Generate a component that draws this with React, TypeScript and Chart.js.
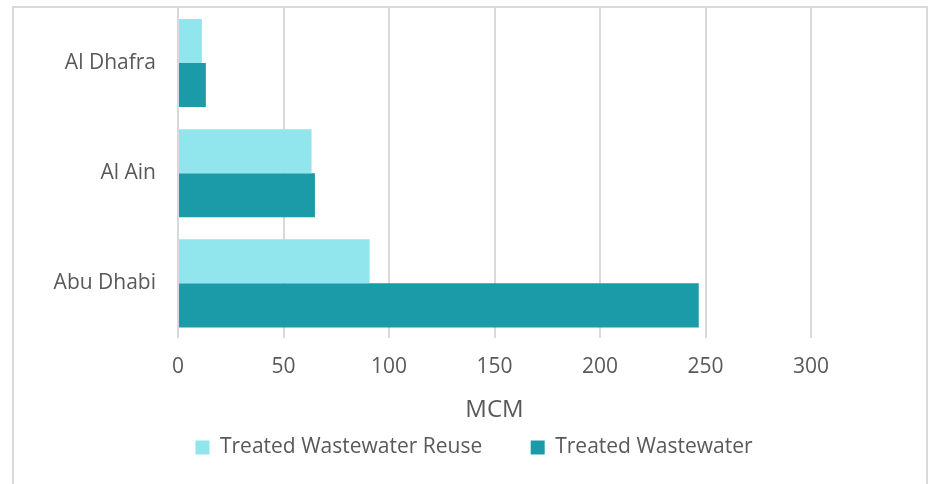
import React, { useEffect, useRef } from "react";
import { Chart, registerables } from "chart.js";

Chart.register(...registerables);

const categories = ["Al Dhafra", "Al Ain", "Abu Dhabi"];
const reuseValues = [11.3, 63.3, 90.8];
const treatedValues = [13.2, 64.9, 246.8];
const seriesNames = ["Treated Wastewater Reuse", "Treated Wastewater"];
const seriesColors = ["#91E5EC", "#1B9AA7"];
const axisTitle = "MCM";

const FONT = "'Open Sans', 'Liberation Sans', sans-serif";
const TEXT = "#595959";

export default function App() {
  const ref = useRef<HTMLCanvasElement | null>(null);

  useEffect(() => {
    if (!ref.current) return;
    const chart = new Chart(ref.current, {
      type: "bar",
      data: {
        labels: categories,
        datasets: [
          {
            label: seriesNames[0],
            data: reuseValues,
            backgroundColor: seriesColors[0],
            categoryPercentage: 0.8,
            barPercentage: 1,
          },
          {
            label: seriesNames[1],
            data: treatedValues,
            backgroundColor: seriesColors[1],
            categoryPercentage: 0.8,
            barPercentage: 1,
          },
        ],
      },
      options: {
        indexAxis: "y",
        animation: false,
        responsive: false,
        maintainAspectRatio: false,
        layout: { autoPadding: false, padding: { left: 0, right: 0, top: 0, bottom: 16 } },
        scales: {
          x: {
            min: 0,
            max: 300,
            ticks: {
              stepSize: 50,
              color: TEXT,
              font: { family: FONT, size: 21 },
              padding: 16.3,
            },
            grid: { color: "#d9d9d9", lineWidth: 2, drawTicks: false },
            border: { display: false },
            title: {
              display: true,
              text: axisTitle,
              color: TEXT,
              font: { family: FONT, size: 24 },
              padding: { top: 0, bottom: 0 },
            },
            afterFit: (s: any) => {
              s.paddingLeft = 0;
              s.paddingRight = 0;
            },
          },
          y: {
            ticks: {
              color: TEXT,
              font: { family: FONT, size: 21 },
              padding: 22,
            },
            grid: { display: false, drawTicks: false },
            border: { display: false },
            afterFit: (s: any) => {
              s.width = 164;
              s.paddingTop = 0;
              s.paddingBottom = 0;
            },
          },
          yRight: {
            type: "category",
            position: "right",
            display: true,
            ticks: { display: false },
            grid: { display: false, drawTicks: false },
            border: { display: false },
            afterFit: (s: any) => {
              s.width = 123;
              s.paddingTop = 0;
              s.paddingBottom = 0;
            },
          },
        },
        plugins: {
          legend: {
            position: "bottom",
            labels: {
              color: TEXT,
              font: { family: FONT, size: 21 },
              boxWidth: 14,
              boxHeight: 14,
              padding: 12,
              generateLabels: (c: any) => {
                const items = Chart.defaults.plugins.legend.labels.generateLabels(c);
                if (items.length === 2) {
                  const spacer = {
                    text: "",
                    fillStyle: "rgba(0,0,0,0)",
                    strokeStyle: "rgba(0,0,0,0)",
                    lineWidth: 0,
                    hidden: false,
                    datasetIndex: -1,
                  };
                  return [items[0], spacer as any, items[1]];
                }
                return items;
              },
            },
            onClick: () => {},
          },
          tooltip: { enabled: false },
        },
      },
    });
    return () => chart.destroy();
  }, []);

  return (
    <div style={{ position: "absolute", left: 0, top: 0, width: 930, height: 484, overflow: "hidden", background: "#fff" }}>
      <div
        style={{
          position: "absolute",
          left: 12,
          top: 6,
          width: 912,
          height: 500,
          border: "2px solid #d9d9d9",
        }}
      />
      <canvas
        ref={ref}
        width={920}
        height={476}
        style={{ position: "absolute", left: 14, top: 8, width: 920, height: 476 }}
      />
    </div>
  );
}
